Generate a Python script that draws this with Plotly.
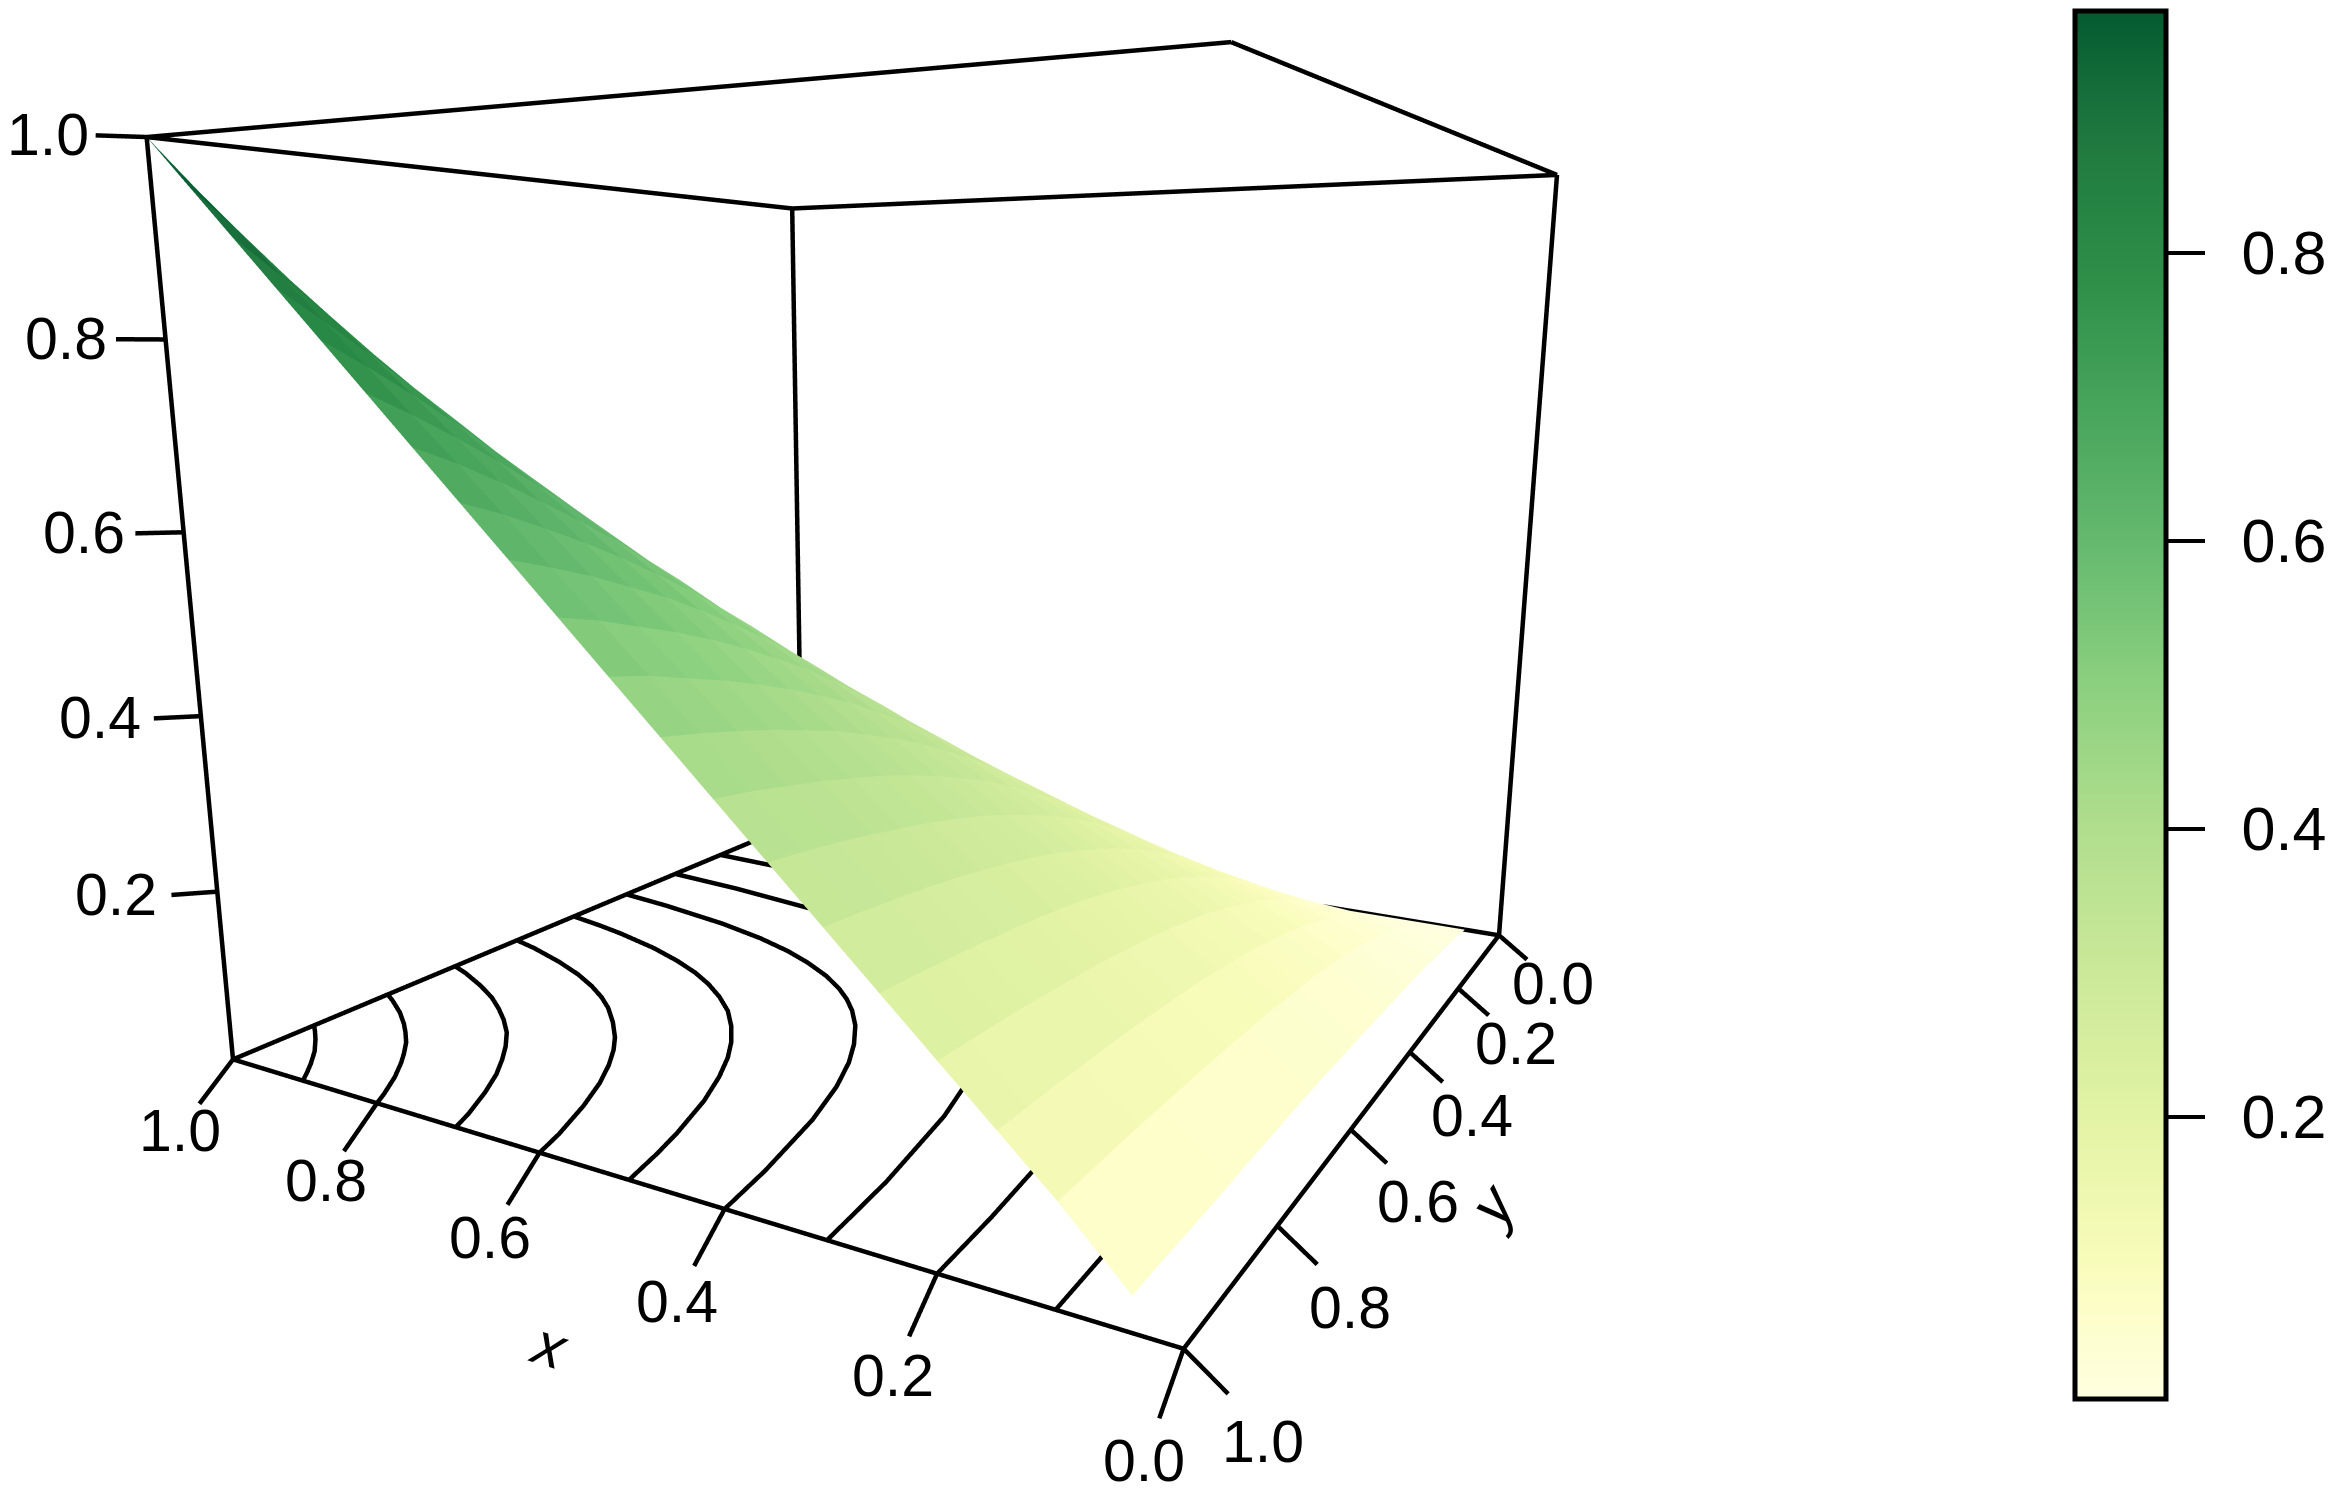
import plotly.graph_objects as go

x_vals = [0.04,0.10,0.15,0.20,0.25,0.30,0.35,0.40,0.45,0.50,0.55,0.60,0.65,0.70,0.75,0.80,0.85,0.90,0.95,1.00]
y_vals = [0.00,0.05,0.10,0.15,0.20,0.25,0.30,0.35,0.40,0.45,0.50,0.55,0.60,0.65,0.70,0.75,0.80,0.85,0.90,0.95,1.00]
z_rows = [
 [0,0,0,0,0,0,0,0,0,0,0,0,0,0,0,0,0,0,0,0],
 [.005,.013,.018,.023,.027,.030,.033,.036,.038,.040,.042,.044,.045,.046,.047,.048,.048,.049,.050,.050],
 [.009,.024,.035,.044,.052,.059,.065,.071,.075,.079,.083,.086,.089,.091,.093,.095,.097,.098,.099,.100],
 [.012,.035,.050,.063,.075,.086,.095,.103,.111,.117,.123,.128,.132,.136,.139,.142,.144,.147,.148,.150],
 [.016,.044,.063,.080,.096,.110,.123,.134,.145,.153,.161,.168,.174,.180,.184,.188,.192,.195,.198,.200],
 [.018,.052,.075,.096,.116,.133,.149,.164,.177,.188,.199,.208,.216,.223,.229,.234,.239,.243,.247,.250],
 [.020,.059,.086,.110,.133,.154,.174,.191,.207,.221,.234,.246,.256,.265,.273,.280,.286,.291,.296,.300],
 [.022,.065,.095,.123,.149,.174,.196,.217,.236,.253,.268,.282,.295,.306,.316,.324,.332,.339,.345,.350],
 [.024,.071,.103,.134,.164,.191,.217,.240,.262,.282,.301,.317,.332,.346,.358,.368,.378,.386,.394,.400],
 [.026,.075,.111,.145,.177,.207,.236,.262,.287,.310,.331,.351,.368,.384,.399,.411,.423,.433,.442,.450],
 [.027,.079,.117,.153,.188,.221,.253,.282,.310,.336,.360,.382,.403,.421,.438,.453,.467,.479,.491,.500],
 [.029,.083,.123,.161,.199,.234,.268,.301,.331,.360,.387,.412,.436,.457,.477,.495,.511,.525,.539,.550],
 [.030,.086,.128,.168,.208,.246,.282,.317,.351,.382,.412,.441,.467,.491,.514,.535,.553,.571,.586,.600],
 [.031,.089,.132,.174,.216,.256,.295,.332,.368,.403,.436,.467,.496,.524,.549,.573,.595,.615,.634,.650],
 [.031,.091,.136,.180,.223,.265,.306,.346,.384,.421,.457,.491,.524,.554,.583,.610,.635,.659,.681,.700],
 [.032,.093,.139,.184,.229,.273,.316,.358,.399,.438,.477,.514,.549,.583,.616,.646,.675,.702,.727,.750],
 [.032,.095,.142,.188,.234,.280,.324,.368,.411,.453,.495,.535,.573,.610,.646,.680,.713,.744,.773,.800],
 [.032,.097,.144,.192,.239,.286,.332,.378,.423,.467,.511,.553,.595,.635,.675,.713,.749,.784,.818,.850],
 [.033,.098,.147,.195,.243,.291,.339,.386,.433,.479,.525,.571,.615,.659,.702,.744,.784,.825,.863,.900],
 [.034,.099,.148,.198,.247,.296,.345,.394,.442,.491,.539,.586,.634,.681,.727,.773,.818,.863,.908,.950],
 [.034,.100,.150,.200,.250,.300,.350,.400,.450,.500,.550,.600,.650,.700,.750,.800,.850,.900,.950,1.000],
]
contour_x = [
 [.1,.102,.107,.115,.125,.14,.16,.19,.229,.279,.346,.422,.517,.62,.758,.908,1],
 [.2,.205,.215,.23,.25,.27,.295,.325,.355,.389,.436,.493,.558,.656,.774,.902,1],
 [.3,.31,.33,.35,.37,.39,.415,.44,.463,.489,.523,.567,.613,.673,.759,.894,1],
 [.4,.41,.43,.45,.47,.49,.515,.54,.562,.586,.619,.661,.702,.755,.826,.929,1],
 [.5,.51,.52,.54,.56,.58,.6,.625,.653,.685,.719,.752,.793,.843,.909,.95,1],
 [.6,.61,.63,.65,.67,.69,.71,.738,.768,.794,.825,.862,.908,.964,1],
 [.7,.71,.73,.75,.77,.79,.814,.841,.867,.896,.932,.974,1],
 [.8,.81,.83,.85,.865,.884,.905,.923,.95,.982,1],
 [.9,.91,.925,.946,.969,.987,1],
]
contour_y = [
 [1,.908,.758,.62,.517,.422,.346,.279,.229,.19,.16,.14,.125,.115,.107,.102,.1],
 [1,.902,.774,.656,.558,.493,.436,.389,.355,.325,.295,.27,.25,.23,.215,.205,.2],
 [1,.894,.759,.673,.613,.567,.523,.489,.463,.44,.415,.39,.37,.35,.33,.31,.3],
 [1,.929,.826,.755,.702,.661,.619,.586,.562,.54,.515,.49,.47,.45,.43,.41,.4],
 [1,.95,.909,.843,.793,.752,.719,.685,.653,.625,.6,.58,.56,.54,.52,.51,.5],
 [1,.964,.908,.862,.825,.794,.768,.738,.71,.69,.67,.65,.63,.61,.6],
 [1,.974,.932,.896,.867,.841,.814,.79,.77,.75,.73,.71,.7],
 [1,.982,.95,.923,.905,.884,.865,.85,.83,.81,.8],
 [1,.987,.969,.946,.925,.91,.9],
]
xy_ticks = [0.0,0.2,0.4,0.6,0.8,1.0]
z_ticks = [0.2,0.4,0.6,0.8,1.0]
bar_ticks = [0.2,0.4,0.6,0.8]
colors = [[0,"#ffffe0"],[.058,"#fdfecb"],[.1,"#f8fcb9"],[.203,"#e3f3a5"],[.307,"#cbe999"],[.411,"#b0de8d"],[.515,"#8bd07f"],[.618,"#64b96e"],[.722,"#45a35a"],[.805,"#2f8f49"],[.864,"#248342"],[.899,"#217b40"],[.948,"#146c39"],[1,"#035a30"]]

LINE = 9
FONT = "Liberation Sans"
TICK_SIZE = 59

nx, ny = len(x_vals), len(y_vals)
vx, vy, vz = [], [], []
for j in range(ny):
    for i in range(nx):
        vx.append(x_vals[i]); vy.append(y_vals[j]); vz.append(z_rows[j][i])
fi, fj, fk, face_val = [], [], [], []
for j in range(ny-1):
    for i in range(nx-1):
        a = j*nx+i; b = a+1; c = a+nx; d = c+1
        m = (z_rows[j][i]+z_rows[j][i+1]+z_rows[j+1][i]+z_rows[j+1][i+1])/4
        fi += [a,b]; fj += [b,d]; fk += [c,c]; face_val += [m,m]

fig = go.Figure()
fig.add_trace(go.Mesh3d(x=vx,y=vy,z=vz,i=fi,j=fj,k=fk,intensity=face_val,intensitymode="cell",
    colorscale=colors,cmin=0.004,cmax=0.968,flatshading=True,
    lighting=dict(ambient=1,diffuse=0,specular=0,roughness=1,fresnel=0),hoverinfo="skip",
    colorbar=dict(x=2067/2340,xanchor="left",xpad=0,ypad=0,y=1-697/1496,yanchor="middle",
        lenmode="pixels",len=1388,thicknessmode="pixels",thickness=91,outlinewidth=5,outlinecolor="black",
        ticks="outside",ticklen=37,tickwidth=4,tickcolor="black",tickvals=bar_ticks,
        ticktext=["\u2009\u20090.2","\u2009\u20090.4","\u2009\u20090.6","\u2009\u20090.8"],
        tickfont=dict(family=FONT,size=61,color="black"))))

def seg(p,q,width=LINE):
    fig.add_trace(go.Scatter3d(x=[p[0],q[0]],y=[p[1],q[1]],z=[p[2],q[2]],mode="lines",line=dict(color="black",width=width),hoverinfo="skip",showlegend=False))

for cx,cy in zip(contour_x,contour_y):
    fig.add_trace(go.Scatter3d(x=cx,y=cy,z=[0]*len(cx),mode="lines",line=dict(color="black",width=LINE),hoverinfo="skip",showlegend=False))
lo,hi = 0,1
edges = [((hi,hi,lo),(hi,lo,lo)),((hi,lo,lo),(lo,lo,lo)),((lo,lo,lo),(lo,hi,lo)),((lo,hi,lo),(hi,hi,lo)),
         ((hi,hi,hi),(hi,lo,hi)),((hi,lo,hi),(lo,lo,hi)),((lo,lo,hi),(lo,hi,hi)),((lo,hi,hi),(hi,hi,hi)),
         ((hi,hi,lo),(hi,hi,hi)),((hi,lo,lo),(hi,lo,hi)),((lo,lo,lo),(lo,lo,hi))]
for p,q in edges:
    seg(p,q)

labels = []
def lab(txt,pos,xs,ys):
    labels.append(dict(text=txt,x=pos[0],y=pos[1],z=pos[2],showarrow=False,xanchor="center",yanchor="middle",xshift=xs,yshift=ys,
                       font=dict(family=FONT,size=TICK_SIZE,color="black")))
for t in xy_ticks:
    end = (t, 1.042, -0.035)
    seg((t,1,0),end)
    lab(f"{t:.1f}",end,-15-4*t,-42+15*t)
    end = (-0.034, t, -0.028)
    seg((0,t,0),end)
    lab(f"{t:.1f}",end,26+9*t,-24-24*t)
for t in z_ticks:
    end = (1.07, 1, t-0.023+0.029*t)
    seg((1,1,t),end)
    lab(f"{t:.1f}",end,-48-9*(1-t),0)

ax = dict(showgrid=False,zeroline=False,showbackground=False,showline=False,showspikes=False,ticks="",showticklabels=False,
          title=dict(text=""),range=[-0.1,1.1])
fig.update_layout(width=2340,height=1496,margin=dict(l=0,r=0,t=0,b=0),paper_bgcolor="white",showlegend=False,
    scene=dict(domain=dict(x=[0,0.784],y=[0.04,1]),aspectmode="manual",aspectratio=dict(x=1.2,y=1.2,z=1.04),
        xaxis=ax,yaxis=ax,zaxis=ax,annotations=labels,
        camera=dict(eye=dict(x=-0.892,y=1.539,z=0.262),center=dict(x=0,y=0,z=-0.137),up=dict(x=0,y=0,z=1))),
    annotations=[
        dict(text="<i>x</i>",xref="paper",yref="paper",x=541/2340,y=1-1337/1496,xanchor="center",yanchor="middle",showarrow=False,textangle=17,font=dict(family=FONT,size=60,color="black")),
        dict(text="<i>y</i>",xref="paper",yref="paper",x=1484/2340,y=1-1197/1496,xanchor="center",yanchor="middle",showarrow=False,textangle=-55,font=dict(family=FONT,size=60,color="black")),
    ])
fig.write_html("out.html")
